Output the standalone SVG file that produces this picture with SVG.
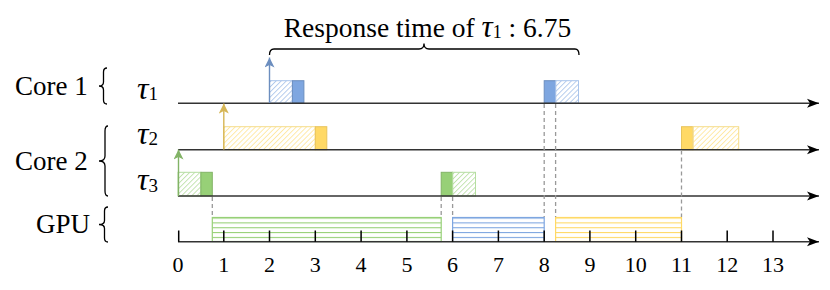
<svg xmlns="http://www.w3.org/2000/svg" width="830" height="290" viewBox="0 0 830 290">
<style>
text{font-family:"Liberation Serif","Times New Roman",serif;fill:#000}
.lbl{font-size:27px}
.tau{font-size:32px;font-style:italic}
.sub{font-size:19px;font-style:normal}
.tick{font-size:22px;text-anchor:middle}
.axis{stroke:#333;stroke-width:1.4;fill:none}
.tk{stroke:#000;stroke-width:1.5}
.brace{stroke:#000;stroke-width:1.3;fill:none}
.dash{stroke:#999;stroke-width:1.3;stroke-dasharray:4 3;fill:none}
</style>
<defs>
<marker id="ah" markerUnits="userSpaceOnUse" markerWidth="12" markerHeight="10" viewBox="0 0 12 10" refX="12" refY="5" orient="auto"><path d="M0,0.5 L12,5 L0,9.5 L3,5 z" fill="#000"/></marker>
<marker id="ab" markerUnits="userSpaceOnUse" markerWidth="10" markerHeight="10" viewBox="0 0 10 10" refX="10" refY="5" orient="auto"><path d="M0,0 L10,5 L0,10 L2.5,5 z" fill="#6c8ebf"/></marker>
<marker id="ay" markerUnits="userSpaceOnUse" markerWidth="10" markerHeight="10" viewBox="0 0 10 10" refX="10" refY="5" orient="auto"><path d="M0,0 L10,5 L0,10 L2.5,5 z" fill="#d6b656"/></marker>
<marker id="ag" markerUnits="userSpaceOnUse" markerWidth="10" markerHeight="10" viewBox="0 0 10 10" refX="10" refY="5" orient="auto"><path d="M0,0 L10,5 L0,10 L2.5,5 z" fill="#82b366"/></marker>
<pattern id="hb" patternUnits="userSpaceOnUse" width="3.6" height="3.6" patternTransform="rotate(45)"><line x1="0" y1="0" x2="0" y2="3.6" stroke="#7ea6e0" stroke-width="1.1"/></pattern>
<pattern id="hy" patternUnits="userSpaceOnUse" width="3.6" height="3.6" patternTransform="rotate(45)"><line x1="0" y1="0" x2="0" y2="3.6" stroke="#ffd966" stroke-width="1.1"/></pattern>
<pattern id="hg" patternUnits="userSpaceOnUse" width="3.6" height="3.6" patternTransform="rotate(45)"><line x1="0" y1="0" x2="0" y2="3.6" stroke="#97d077" stroke-width="1.1"/></pattern>
<pattern id="gb" patternUnits="userSpaceOnUse" x="0" y="217.5" width="10" height="4.85"><line x1="0" y1="0.5" x2="10" y2="0.5" stroke="#7ea6e0" stroke-width="1.2"/></pattern>
<pattern id="gy" patternUnits="userSpaceOnUse" x="0" y="217.5" width="10" height="4.85"><line x1="0" y1="0.5" x2="10" y2="0.5" stroke="#ffd966" stroke-width="1.2"/></pattern>
<pattern id="gg" patternUnits="userSpaceOnUse" x="0" y="217.5" width="10" height="4.85"><line x1="0" y1="0.5" x2="10" y2="0.5" stroke="#97d077" stroke-width="1.2"/></pattern>
</defs>

<g id="labels">
<text class="lbl" x="15" y="95">Core 1</text>
<path class="brace" d="M107,68 C104,68 103.5,69.5 103.5,72 L103.5,82 C103.5,84.5 102,86 99,86 C102,86 103.5,87.5 103.5,90 L103.5,100 C103.5,102.5 104,104 107,104"/>
<text class="lbl" x="15" y="170">Core 2</text>
<path class="brace" d="M108,126 C105.5,126 105,127.5 105,131 L105,156 C105,159 103,161 99,161 C103,161 105,163 105,166 L105,191 C105,194.5 105.5,196 108,196"/>
<text class="lbl" x="36" y="233">GPU</text>
<path class="brace" d="M108,207 C105,207 104.5,208.5 104.5,211 L104.5,220.5 C104.5,223 102.5,224.5 99,224.5 C102.5,224.5 104.5,226 104.5,228.5 L104.5,238 C104.5,240.5 105,242 108,242"/>
<text class="tau" x="137" y="98.5">τ<tspan class="sub" dy="1.5">1</tspan></text>
<text class="tau" x="137" y="143.5">τ<tspan class="sub" dy="1.5">2</tspan></text>
<text class="tau" x="137" y="190">τ<tspan class="sub" dy="1.5">3</tspan></text>
<text x="427.5" y="36.5" font-size="27.5" text-anchor="middle">Response time of <tspan font-style="italic" font-size="31">τ</tspan><tspan font-size="18" dy="1.5">1</tspan><tspan dy="-1.5"> : 6.75</tspan></text>
<path class="brace" d="M269.5,55 C269.5,51 271,49 274,49 L419,49 C422,49 424,47 424,43.5 C424,47 426,49 429,49 L575,49 C578,49 579,51 579,55"/>
</g>

<g id="tau1">
<rect x="269.5" y="80.7" width="22.9" height="22.3" fill="url(#hb)" stroke="#a9c4eb" stroke-width="1"/>
<rect x="292.4" y="80.7" width="11.5" height="22.3" fill="#7ea6e0" stroke="#6c8ebf" stroke-width="1"/>
<rect x="544.2" y="80.7" width="11.4" height="22.3" fill="#7ea6e0" stroke="#6c8ebf" stroke-width="1"/>
<rect x="555.6" y="80.7" width="22.9" height="22.3" fill="url(#hb)" stroke="#a9c4eb" stroke-width="1"/>
</g>
<g id="tau2">
<rect x="223.8" y="126.7" width="91.5" height="23" fill="url(#hy)" stroke="#f5dd8a" stroke-width="1"/>
<rect x="315.3" y="126.7" width="11.5" height="23" fill="#ffd966" stroke="#e8c45c" stroke-width="1"/>
<rect x="681.5" y="126.7" width="11.4" height="23" fill="#ffd966" stroke="#e8c45c" stroke-width="1"/>
<rect x="692.9" y="126.7" width="45.8" height="23" fill="url(#hy)" stroke="#f5dd8a" stroke-width="1"/>
</g>
<g id="tau3">
<rect x="178" y="172.3" width="22.9" height="23.7" fill="url(#hg)" stroke="#b5dea0" stroke-width="1"/>
<rect x="200.9" y="172.3" width="11.4" height="23.7" fill="#97d077" stroke="#82b366" stroke-width="1"/>
<rect x="441.2" y="172.3" width="11.4" height="23.7" fill="#97d077" stroke="#82b366" stroke-width="1"/>
<rect x="452.6" y="172.3" width="22.9" height="23.7" fill="url(#hg)" stroke="#b5dea0" stroke-width="1"/>
</g>
<g id="gpu">
<rect x="212.3" y="217.5" width="228.9" height="24" fill="url(#gg)" stroke="#97d077" stroke-width="1.2"/>
<rect x="452.6" y="217.5" width="91.6" height="24" fill="url(#gb)" stroke="#7ea6e0" stroke-width="1.2"/>
<rect x="555.6" y="217.5" width="125.9" height="24" fill="url(#gy)" stroke="#ffd966" stroke-width="1.2"/>
</g>

<g id="connectors">
<line class="axis" x1="178" y1="103.3" x2="819" y2="103.3" marker-end="url(#ah)"/>
<line class="axis" x1="178" y1="149.7" x2="819" y2="149.7" marker-end="url(#ah)"/>
<line class="axis" x1="178" y1="196" x2="819" y2="196" marker-end="url(#ah)"/>
<line class="axis" x1="178" y1="241.7" x2="819" y2="241.7" marker-end="url(#ah)"/>
<line x1="269.5" y1="103" x2="269.5" y2="57.5" stroke="#6c8ebf" stroke-width="1.4" marker-end="url(#ab)"/>
<line x1="223.8" y1="149.5" x2="223.8" y2="103.5" stroke="#d6b656" stroke-width="1.4" marker-end="url(#ay)"/>
<line x1="178.5" y1="196" x2="178.5" y2="149.5" stroke="#82b366" stroke-width="1.4" marker-end="url(#ag)"/>
<line class="dash" x1="212.3" y1="197" x2="212.3" y2="217"/>
<line class="dash" x1="441.2" y1="197" x2="441.2" y2="217"/>
<line class="dash" x1="452.6" y1="197" x2="452.6" y2="217"/>
<line class="dash" x1="544.2" y1="104" x2="544.2" y2="217"/>
<line class="dash" x1="555.6" y1="104" x2="555.6" y2="217"/>
<line class="dash" x1="681.5" y1="150.5" x2="681.5" y2="217"/>
</g>

<g id="ticks">
<path class="tk" d="M178.7,230.5V241.7 M223.8,230.5V241.7 M269.5,230.5V241.7 M315.3,230.5V241.7 M361.1,230.5V241.7 M406.9,230.5V241.7 M452.6,230.5V241.7 M498.4,230.5V241.7 M544.2,230.5V241.7 M589.9,230.5V241.7 M635.7,230.5V241.7 M681.5,230.5V241.7 M727.2,230.5V241.7 M773,230.5V241.7"/>
<text class="tick" x="178" y="272">0</text>
<text class="tick" x="223.8" y="272">1</text>
<text class="tick" x="269.5" y="272">2</text>
<text class="tick" x="315.3" y="272">3</text>
<text class="tick" x="361.1" y="272">4</text>
<text class="tick" x="406.9" y="272">5</text>
<text class="tick" x="452.6" y="272">6</text>
<text class="tick" x="498.4" y="272">7</text>
<text class="tick" x="544.2" y="272">8</text>
<text class="tick" x="589.9" y="272">9</text>
<text class="tick" x="635.7" y="272">10</text>
<text class="tick" x="681.5" y="272">11</text>
<text class="tick" x="727.2" y="272">12</text>
<text class="tick" x="773" y="272">13</text>
</g>
</svg>
